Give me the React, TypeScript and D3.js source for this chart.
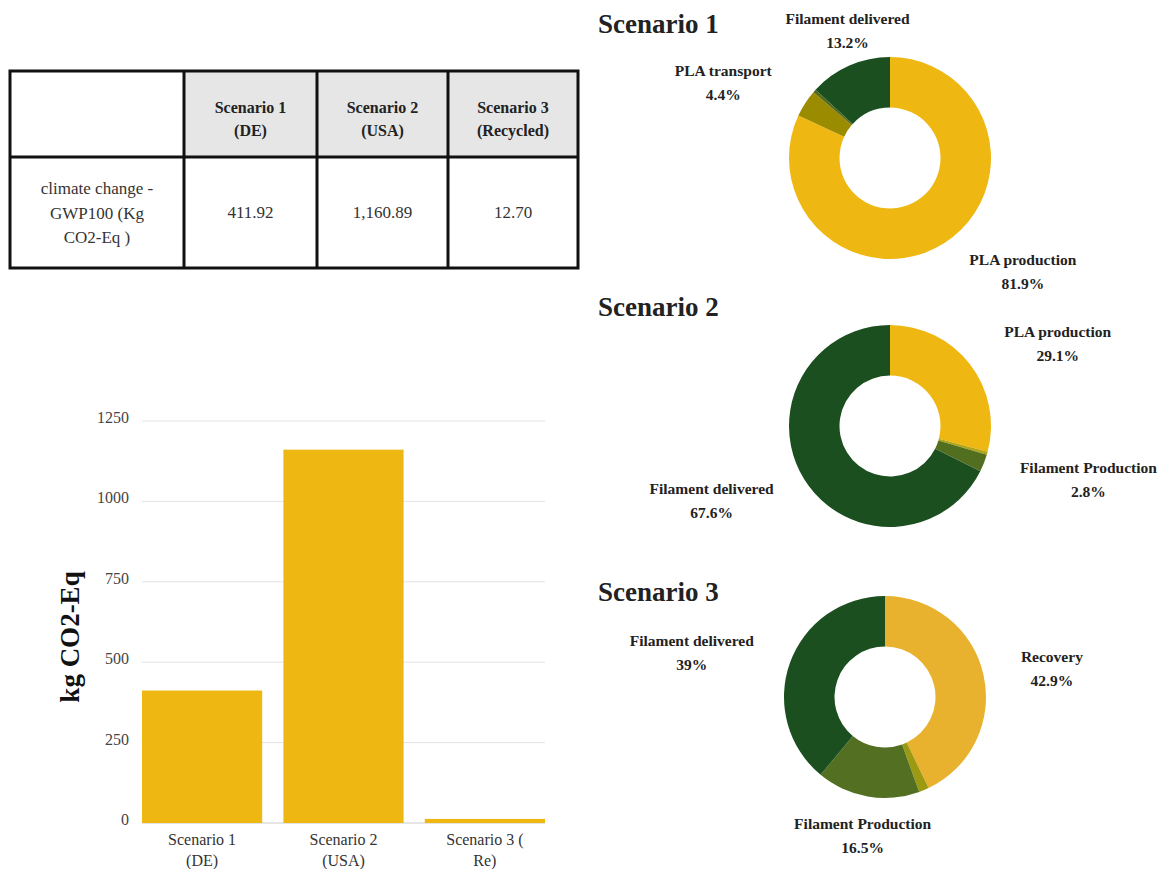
import React from 'react';
import * as d3 from 'd3';

const W = 1161;
const H = 869;
const FONT = '"Liberation Serif", "Times New Roman", serif';

// table
const tableHeaders = [['Scenario 1', '(DE)'], ['Scenario 2', '(USA)'], ['Scenario 3', '(Recycled)']];
const tableRowLabel = ['climate change -', 'GWP100 (Kg', 'CO2-Eq )'];
const tableValues = ['411.92', '1,160.89', '12.70'];

// bar chart
const barCategories = [['Scenario 1', '(DE)'], ['Scenario 2', '(USA)'], ['Scenario 3 (', 'Re)']];
const barValues = [411.92, 1160.89, 12.7];
const barTicks = [0, 250, 500, 750, 1000, 1250];

// donuts
const s1Names = ['PLA production', 'PLA transport', 'Filament Production', 'Filament delivered'];
const s1Values = [81.9, 4.4, 0.5, 13.2];
const s1Colors = ['#efb712', '#9b8b00', '#556b1c', '#1b4f1f'];
const s1Labels = [true, true, false, true];
const s1Nudge = [[44, -21], [-28, 18], [0, 0], [24, 28]];

const s2Names = ['PLA production', 'PLA transport', 'Filament Production', 'Filament delivered'];
const s2Values = [29.1, 0.5, 2.8, 67.6];
const s2Colors = ['#efb712', '#b3a514', '#526f20', '#1b4f1f'];
const s2Labels = [true, false, true, true];
const s2Nudge = [[37, 23], [0, 0], [45, -3], [-38, -8]];

const s3Names = ['Recovery', 'Transport', 'Filament Production', 'Filament delivered'];
const s3Values = [42.9, 1.6, 16.5, 39];
const s3Colors = ['#e9b22e', '#9c9a12', '#536f21', '#1b4f1f'];
const s3Labels = [true, false, true, true];
const s3Nudge = [[6, 12], [0, 0], [6, -20], [-38, 16]];

interface DonutProps {
  title: string;
  titleY: number;
  cx: number;
  cy: number;
  names: string[];
  values: number[];
  colors: string[];
  showLabel: boolean[];
  nudge: number[][];
}

const Donut: React.FC<DonutProps> = ({ title, titleY, cx, cy, names, values, colors, showLabel, nudge }) => {
  const r = 101;
  const pie = d3.pie<number>().sort(null).value(d => d);
  const arcs = pie(values);
  const arc = d3.arc<d3.PieArcDatum<number>>().innerRadius(r * 0.5).outerRadius(r);
  const labelArc = d3.arc<d3.PieArcDatum<number>>().innerRadius(165).outerRadius(165);
  const total = d3.sum(values);
  const fmt = (v: number) => `${+(v / total * 100).toFixed(1)}%`;

  return (
    <g>
      <text x={598} y={titleY} fontFamily={FONT} fontWeight="bold" fontSize={27} fill="#222">{title}</text>
      <g transform={`translate(${cx},${cy})`}>
        {arcs.map((a, i) => (
          <path key={i} d={arc(a) || ''} fill={colors[i]} />
        ))}
        {arcs.map((a, i) => {
          if (!showLabel[i]) return null;
          const [lx, ly] = labelArc.centroid(a);
          const x = lx + nudge[i][0];
          const y = ly + nudge[i][1];
          return (
            <text key={'l' + i} x={x} y={y} textAnchor="middle" fontFamily={FONT} fontWeight="bold" fontSize={15.5} fill="#222">
              <tspan x={x} dy={-11}>{names[i]}</tspan>
              <tspan x={x} dy={24}>{fmt(values[i])}</tspan>
            </text>
          );
        })}
      </g>
    </g>
  );
};

const App: React.FC = () => {
  // table layout
  const colX = [10, 184, 317, 448, 578];
  const rowY = [71, 157, 268];

  // bar chart scales
  const x = d3.scaleBand<number>()
    .domain(d3.range(barValues.length))
    .range([142, 545])
    .paddingInner(0.15)
    .paddingOuter(0);
  const y = d3.scaleLinear().domain([0, 1250]).range([823, 421]);

  return (
    <svg width={W} height={H} style={{ position: 'absolute', left: 0, top: 0, background: '#fff' }}>
      {/* table */}
      <rect x={colX[1]} y={rowY[0]} width={colX[4] - colX[1]} height={rowY[1] - rowY[0]} fill="#e6e6e6" />
      <rect x={colX[0]} y={rowY[0]} width={colX[4] - colX[0]} height={rowY[2] - rowY[0]} fill="none" stroke="#111" strokeWidth={3} />
      <line x1={colX[0]} x2={colX[4]} y1={rowY[1]} y2={rowY[1]} stroke="#111" strokeWidth={3} />
      {colX.slice(1, 4).map((cx, i) => (
        <line key={i} x1={cx} x2={cx} y1={rowY[0]} y2={rowY[2]} stroke="#111" strokeWidth={3} />
      ))}
      {tableHeaders.map((h, i) => {
        const mx = (colX[i + 1] + colX[i + 2]) / 2;
        return (
          <text key={i} x={mx} y={113} textAnchor="middle" fontFamily={FONT} fontWeight="bold" fontSize={16} fill="#222">
            <tspan x={mx} dy={0}>{h[0]}</tspan>
            <tspan x={mx} dy={23}>{h[1]}</tspan>
          </text>
        );
      })}
      <text x={(colX[0] + colX[1]) / 2} y={194} textAnchor="middle" fontFamily={FONT} fontSize={17} fill="#333">
        {tableRowLabel.map((t, i) => (
          <tspan key={i} x={(colX[0] + colX[1]) / 2} dy={i === 0 ? 0 : 24.5}>{t}</tspan>
        ))}
      </text>
      {tableValues.map((v, i) => (
        <text key={i} x={(colX[i + 1] + colX[i + 2]) / 2} y={218} textAnchor="middle" fontFamily={FONT} fontSize={17} fill="#333">{v}</text>
      ))}

      {/* bar chart */}
      {barTicks.map(t => (
        <g key={t}>
          <line x1={142} x2={545} y1={y(t)} y2={y(t)} stroke={t === 0 ? '#cccccc' : '#e3e3e3'} strokeWidth={1} />
          <text x={129} y={y(t) + 2} textAnchor="end" fontFamily={FONT} fontSize={16} fill="#444">{t}</text>
        </g>
      ))}
      {barValues.map((v, i) => (
        <rect key={i} x={x(i)} y={y(v)} width={x.bandwidth()} height={y(0) - y(v)} fill="#efb712" />
      ))}
      {barCategories.map((c, i) => {
        const mx = (x(i) || 0) + x.bandwidth() / 2;
        return (
          <text key={i} x={mx} y={845} textAnchor="middle" fontFamily={FONT} fontSize={16} fill="#333">
            <tspan x={mx} dy={0}>{c[0]}</tspan>
            <tspan x={mx} dy={21}>{c[1]}</tspan>
          </text>
        );
      })}
      <text transform="translate(79,637) rotate(-90)" textAnchor="middle" fontFamily={FONT} fontWeight="bold" fontSize={27} fill="#111">kg CO2-Eq</text>

      {/* donuts */}
      <Donut title="Scenario 1" titleY={33} cx={890} cy={158} names={s1Names} values={s1Values} colors={s1Colors} showLabel={s1Labels} nudge={s1Nudge} />
      <Donut title="Scenario 2" titleY={316} cx={890} cy={426} names={s2Names} values={s2Values} colors={s2Colors} showLabel={s2Labels} nudge={s2Nudge} />
      <Donut title="Scenario 3" titleY={601} cx={885} cy={697} names={s3Names} values={s3Values} colors={s3Colors} showLabel={s3Labels} nudge={s3Nudge} />
    </svg>
  );
};

export default App;
